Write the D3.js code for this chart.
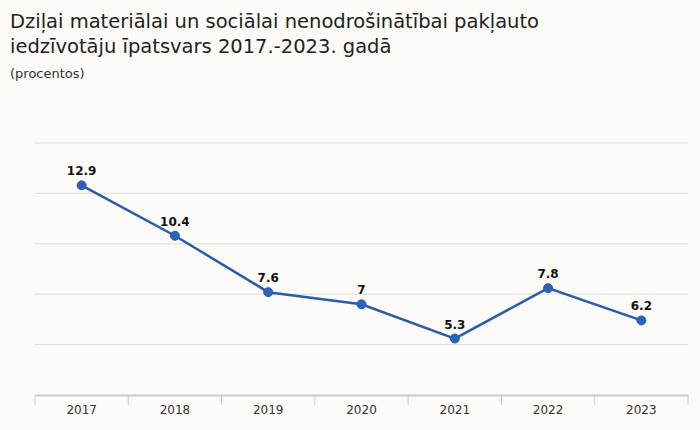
<!DOCTYPE html>
<html>
<head>
  <meta charset="utf-8">
  <script src="https://cdnjs.cloudflare.com/ajax/libs/d3/7.8.5/d3.min.js"></script>
  <title>d3</title>
  <style>
    body { margin: 0; background: #fcfbf8; }
  </style>
</head>
<body>

<script>
var gadi = ["2017", "2018", "2019", "2020", "2021", "2022", "2023"];
var vertibas = [12.9, 10.4, 7.6, 7, 5.3, 7.8, 6.2];
var yTicks = [2.5, 5, 7.5, 10, 12.5, 15];
var virsraksts = ["Dziļai materiālai un sociālai nenodrošinātībai pakļauto",
                  "iedzīvotāju īpatsvars 2017.-2023. gadā"];
var apaksvirsraksts = "(procentos)";

var w = 700, h = 430;
var mLeft = 35, mRight = 688, mTop = 143, mBottom = 395;

var svg = d3.select("body").append("svg")
  .attr("width", w)
  .attr("height", h)
  .style("font-family", "'DejaVu Sans', sans-serif");

svg.append("rect").attr("width", w).attr("height", h).attr("fill", "#fcfbf8");

// virsraksts
svg.selectAll("text.title").data(virsraksts).enter().append("text")
  .attr("class", "title")
  .attr("x", 10)
  .attr("y", function(d, i) { return 28 + i * 25; })
  .attr("font-size", 19.5)
  .attr("fill", "#222")
  .text(function(d) { return d; });

svg.append("text")
  .attr("x", 10).attr("y", 78)
  .attr("font-size", 13)
  .attr("fill", "#333")
  .text(apaksvirsraksts);

var x = d3.scaleBand().domain(gadi).range([mLeft, mRight]);
var y = d3.scaleLinear().domain([2.5, 15]).range([mBottom, mTop]);

// režģis
svg.append("g").selectAll("line").data(yTicks.slice(1)).enter().append("line")
  .attr("x1", mLeft).attr("x2", mRight)
  .attr("y1", function(d) { return y(d); })
  .attr("y2", function(d) { return y(d); })
  .attr("stroke", "#dcdcdc")
  .attr("stroke-width", 1);

// x ass
var ass = svg.append("g")
  .attr("transform", "translate(0," + mBottom + ")")
  .call(d3.axisBottom(x).tickSize(0).tickPadding(10));
ass.select(".domain").attr("stroke", "#c8ccd0").attr("stroke-width", 2);
ass.selectAll("text")
  .attr("font-size", 12)
  .attr("fill", "#333")
  .style("font-family", "'DejaVu Sans', sans-serif");

var robezas = gadi.map(function(d) { return x(d); }).concat([mRight]);
ass.selectAll("line.tick2").data(robezas).enter().append("line")
  .attr("class", "tick2")
  .attr("x1", function(d) { return d; })
  .attr("x2", function(d) { return d; })
  .attr("y1", 0).attr("y2", 10)
  .attr("stroke", "#c8ccd0");

var cx = function(d, i) { return x(gadi[i]) + x.bandwidth() / 2; };

var linija = d3.line()
  .x(function(d, i) { return cx(d, i); })
  .y(function(d) { return y(d); });

svg.append("path")
  .datum(vertibas)
  .attr("d", linija)
  .attr("fill", "none")
  .attr("stroke", "#2a5ca8")
  .attr("stroke-width", 2.5);

svg.selectAll("circle").data(vertibas).enter().append("circle")
  .attr("cx", cx)
  .attr("cy", function(d) { return y(d); })
  .attr("r", 4.5)
  .attr("fill", "#2a63b8")
  .attr("stroke", "#2a5ca8");

svg.selectAll("text.lbl").data(vertibas).enter().append("text")
  .attr("class", "lbl")
  .attr("x", cx)
  .attr("y", function(d) { return y(d) - 10; })
  .attr("text-anchor", "middle")
  .attr("font-size", 12)
  .attr("font-weight", "bold")
  .attr("fill", "#111")
  .text(function(d) { return d; });
</script>

</body>
</html>
